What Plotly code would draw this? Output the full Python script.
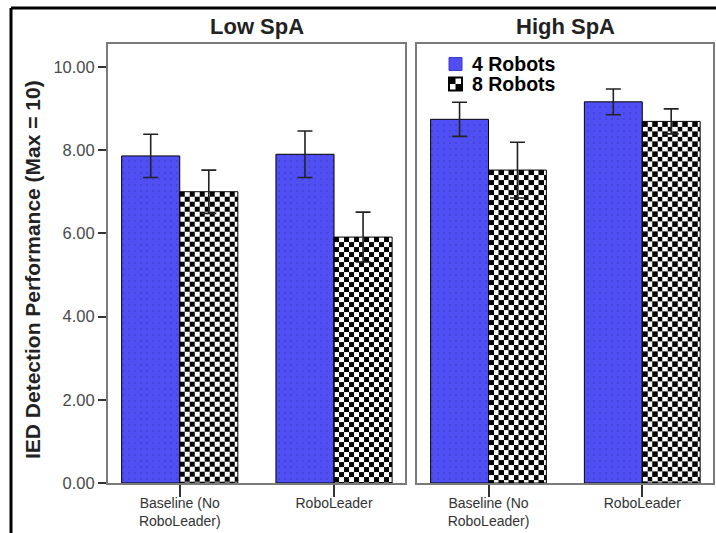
import base64
import plotly.graph_objects as go

# ---- data ----
categories = ["Baseline (No<br>RoboLeader)", "RoboLeader"]
panels = ["Low SpA", "High SpA"]
series_names = ["4 Robots", "8 Robots"]

low_4 = [7.86, 7.90]
low_4_err = [0.52, 0.56]
low_8 = [7.00, 5.91]
low_8_err = [0.52, 0.60]

high_4 = [8.74, 9.16]
high_4_err = [0.41, 0.31]
high_8 = [7.52, 8.69]
high_8_err = [0.67, 0.30]

y_ticks = [0, 2, 4, 6, 8, 10]

# ---- style ----
W, H = 716, 533
BLUE = "#4f4ff4"
BLUE_DOT = "#3535b8"
BARGAP = 0.247
XRANGE = [-0.465, 1.46]
YRANGE = [0, 10.55]
PANEL_X = [(108, 405), (417, 713)]
PANEL_Y = (44, 483)
BAR_W = (1 - BARGAP) / 2
CELL = 5
PX_PER_Y = (PANEL_Y[1] - PANEL_Y[0]) / (YRANGE[1] - YRANGE[0])


def checker_uri(w, h):
    """SVG checkerboard of the given pixel size (used as the 8-robot bar fill)."""
    svg = (
        f"<svg xmlns='http://www.w3.org/2000/svg' width='{w:.2f}' height='{h:.2f}' "
        f"viewBox='0 0 {w:.2f} {h:.2f}' preserveAspectRatio='none' shape-rendering='crispEdges'>"
        f"<defs><pattern id='c' width='{2*CELL}' height='{2*CELL}' patternUnits='userSpaceOnUse'>"
        f"<rect width='{2*CELL}' height='{2*CELL}' fill='#ffffff'/>"
        f"<rect width='{CELL}' height='{CELL}' fill='#000000'/>"
        f"<rect x='{CELL}' y='{CELL}' width='{CELL}' height='{CELL}' fill='#000000'/>"
        f"</pattern></defs><rect width='{w:.2f}' height='{h:.2f}' fill='url(#c)'/></svg>"
    )
    return "data:image/svg+xml;base64," + base64.b64encode(svg.encode()).decode()


fig = go.Figure()


def add_pair(v4, e4, v8, e8, xa, ya, panel_px):
    fig.add_trace(go.Bar(
        x=categories, y=v4, name=series_names[0], xaxis=xa, yaxis=ya,
        offsetgroup="a", showlegend=False,
        marker=dict(color=BLUE, line=dict(color="#000", width=1),
                    pattern=dict(shape=".", fgcolor=BLUE_DOT, bgcolor=BLUE,
                                 size=6, solidity=0.08)),
        error_y=dict(type="data", array=e4, visible=True, color="#222",
                     thickness=1.6, width=7.5),
    ))
    fig.add_trace(go.Bar(
        x=categories, y=v8, name=series_names[1], xaxis=xa, yaxis=ya,
        offsetgroup="b", showlegend=False,
        marker=dict(color="rgba(0,0,0,0)", line=dict(color="#000", width=1)),
        error_y=dict(type="data", array=e8, visible=True, color="#222",
                     thickness=1.6, width=7.5),
    ))
    px_per_x = (panel_px[1] - panel_px[0]) / (XRANGE[1] - XRANGE[0])
    for i, v in enumerate(v8):
        fig.add_layout_image(
            source=checker_uri(BAR_W * px_per_x, v * PX_PER_Y),
            xref=xa, yref=ya, x=i, y=v, sizex=BAR_W, sizey=v,
            xanchor="left", yanchor="top", sizing="stretch", layer="below", opacity=1,
        )


add_pair(low_4, low_4_err, low_8, low_8_err, "x", "y", PANEL_X[0])
add_pair(high_4, high_4_err, high_8, high_8_err, "x2", "y2", PANEL_X[1])

ydom = [1 - PANEL_Y[1] / H, 1 - PANEL_Y[0] / H]
xcommon = dict(type="category", range=XRANGE, showgrid=False, zeroline=False,
               showline=True, linecolor="#7a7a7a", linewidth=2, mirror=True,
               ticks="outside", ticklen=12, tickcolor="#333", tickwidth=1.5,
               ticklabelstandoff=-6,
               tickfont=dict(family="Liberation Sans, Arial", size=14, color="#333"),
               fixedrange=True, automargin=False)
ycommon = dict(range=YRANGE, showgrid=False, zeroline=False,
               showline=True, linecolor="#7a7a7a", linewidth=2, mirror=True,
               domain=ydom, fixedrange=True, automargin=False)

fig.update_layout(
    width=W, height=H,
    margin=dict(l=0, r=0, t=0, b=0),
    paper_bgcolor="white", plot_bgcolor="rgba(0,0,0,0)",
    barmode="group", bargap=BARGAP, bargroupgap=0,
    font=dict(family="Liberation Sans, Arial", color="#000"),
    xaxis=dict(domain=[PANEL_X[0][0] / W, PANEL_X[0][1] / W], anchor="y", **xcommon),
    xaxis2=dict(domain=[PANEL_X[1][0] / W, PANEL_X[1][1] / W], anchor="y2", **xcommon),
    yaxis=dict(anchor="x", tickvals=y_ticks, tickformat=".2f", ticks="outside",
               ticklen=8, tickcolor="#333", tickwidth=1.5,
               tickfont=dict(family="Liberation Sans, Arial", size=16.5, color="#4a4a4a"),
               **ycommon),
    yaxis2=dict(anchor="x2", showticklabels=False, ticks="", **ycommon),
    showlegend=False,
)


def px(x, y):
    return x / W, 1 - y / H


# panel titles
for name, (x0, x1) in zip(panels, PANEL_X):
    cx, cy = px((x0 + x1) / 2, 27)
    fig.add_annotation(text=f"<b>{name}</b>", x=cx, y=cy, xref="paper", yref="paper",
                       xanchor="center", yanchor="middle", showarrow=False,
                       font=dict(size=22, color="#222"))

# y-axis title
tx, ty = px(32, 270)
fig.add_annotation(text="<b>IED Detection Performance (Max = 10)</b>", x=tx, y=ty,
                   xref="paper", yref="paper", xanchor="center", yanchor="middle",
                   showarrow=False, textangle=-90, font=dict(size=21, color="#222"))

# legend (custom, inside the High SpA panel)
leg_x, leg_y0, leg_dy, sw = 449, 64, 20, 13
for k, name in enumerate(series_names):
    yc = leg_y0 + k * leg_dy
    tx, ty = px(leg_x + sw + 8, yc)
    fig.add_annotation(text=f"<b>{name}</b>", x=tx, y=ty, xref="paper", yref="paper",
                       xanchor="left", yanchor="middle", showarrow=False,
                       font=dict(size=19.5, color="#000"))
    ax0, ay0 = px(leg_x, yc - sw / 2)
    ax1, ay1 = px(leg_x + sw, yc + sw / 2)
    if k == 0:
        fig.add_shape(type="rect", xref="paper", yref="paper", x0=ax0, x1=ax1, y0=ay1, y1=ay0,
                      fillcolor=BLUE, line=dict(color="#3a3ad0", width=1))
    else:
        fig.add_shape(type="rect", xref="paper", yref="paper", x0=ax0, x1=ax1, y0=ay1, y1=ay0,
                      fillcolor="#fff", line=dict(color="#000", width=2))
        mx, my = px(leg_x + sw / 2, yc)
        fig.add_shape(type="rect", xref="paper", yref="paper", x0=ax0, x1=mx, y0=my, y1=ay0,
                      fillcolor="#000", line=dict(width=0))
        fig.add_shape(type="rect", xref="paper", yref="paper", x0=mx, x1=ax1, y0=ay1, y1=my,
                      fillcolor="#000", line=dict(width=0))

# outer frame (top and left edges of the original figure border)
fx, fy = px(11, 8)
fig.add_shape(type="line", xref="paper", yref="paper", x0=fx, x1=1, y0=fy, y1=fy,
              line=dict(color="#000", width=3))
fig.add_shape(type="line", xref="paper", yref="paper", x0=fx, x1=fx, y0=0, y1=fy,
              line=dict(color="#000", width=3))

fig.write_html(
    "out.html",
    config={"displayModeBar": False},
    post_script="document.body.style.margin='0';document.body.style.overflow='hidden';",
)
